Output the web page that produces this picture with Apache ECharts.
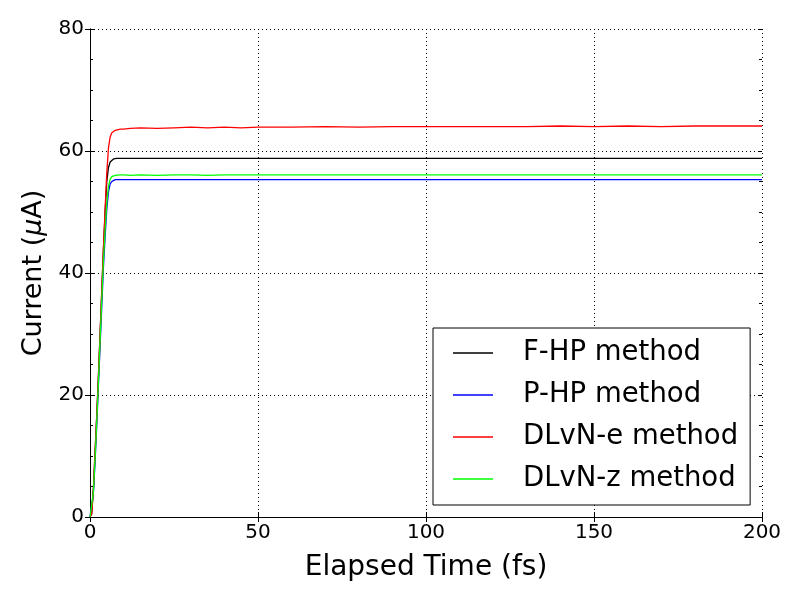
<!DOCTYPE html>
<html>
<head>
<meta charset="utf-8">
<script src="https://cdn.jsdelivr.net/npm/echarts@6/dist/echarts.min.js"></script>
<style>
  html, body { margin: 0; padding: 0; background: #fff; }
  #main { width: 800px; height: 600px; }
</style>
</head>
<body>
<div id="main"></div>
<script>
// time axis (fs)
var time = [0, 0.5, 1, 1.5, 2, 2.5, 3, 3.5, 4, 4.5, 5, 5.5, 6, 6.5, 7, 7.5, 8, 9, 10,
            12, 15, 20, 25, 30, 35, 40, 45, 50, 60, 70, 80, 90, 100, 110, 120, 130,
            140, 150, 160, 170, 180, 190, 200];

var fhp = [0, 0.5, 4.5, 10.5, 16.5, 23, 30, 37, 44, 50, 55, 57.3, 58.2, 58.5, 58.7, 58.8, 58.8, 58.8, 58.8,
           58.8, 58.8, 58.8, 58.8, 58.8, 58.8, 58.8, 58.8, 58.8, 58.8, 58.8, 58.8, 58.8, 58.8, 58.8, 58.8, 58.8,
           58.8, 58.8, 58.8, 58.8, 58.8, 58.8, 58.8];

var php = [0, 0.3, 3.8, 9, 15, 21.5, 28, 34.5, 41, 46, 50.5, 53.3, 54.6, 55.0, 55.2, 55.3, 55.3, 55.3, 55.3,
           55.3, 55.3, 55.3, 55.3, 55.3, 55.3, 55.3, 55.3, 55.3, 55.3, 55.3, 55.3, 55.3, 55.3, 55.3, 55.3, 55.3,
           55.3, 55.3, 55.3, 55.3, 55.3, 55.3, 55.3];

var dlvnE = [0, 0.5, 4.5, 10.5, 16.5, 23, 30, 37, 44, 50.5, 56.5, 60.5, 62.3, 63.0, 63.3, 63.4, 63.5, 63.6, 63.6,
             63.7, 63.8, 63.7, 63.8, 63.9, 63.8, 63.9, 63.8, 63.9, 63.9, 64.0, 63.9, 64.0, 64.0, 64.0, 64.0, 64.0,
             64.1, 64.0, 64.1, 64.0, 64.1, 64.1, 64.1];

var dlvnZ = [0, 0.3, 4, 9.5, 15.5, 22, 29, 35.5, 42, 47, 51.5, 54.2, 55.4, 55.8, 56.0, 56.0, 56.1, 56.1, 56.1,
             56.0, 56.1, 56.0, 56.1, 56.1, 56.0, 56.1, 56.1, 56.1, 56.1, 56.1, 56.1, 56.1, 56.1, 56.1, 56.1, 56.1,
             56.1, 56.1, 56.1, 56.1, 56.1, 56.1, 56.1];

var names = ['F-HP method', 'P-HP method', 'DLvN-e method', 'DLvN-z method'];
var colors = ['#000000', '#0000ff', '#ff0000', '#00ff00'];
var values = [fhp, php, dlvnE, dlvnZ];

function pairs(ys) {
    return time.map(function (t, i) { return [t, ys[i]]; });
}

var font = 'DejaVu Sans';
var gridLine = {show: true, lineStyle: {color: '#000', width: 1, type: [1, 3]}};
var box = {show: true, lineStyle: {color: '#000', width: 1}};
var tick = {show: true, inside: true, length: 5, lineStyle: {color: '#000'}};

// extra tick-only y axis every 5 uA, for the short inward minor ticks
function minorY(pos) {
    return {
        type: 'value', min: 0, max: 80, interval: 5, position: pos,
        axisLine: {show: false},
        axisTick: {show: true, inside: true, length: 3, lineStyle: {color: '#000'}},
        axisLabel: {show: false}, splitLine: {show: false}
    };
}

var myChart = echarts.init(document.getElementById('main'));

var option = {
    animation: false,
    backgroundColor: '#fff',
    grid: {left: 90, right: 38, top: 29, bottom: 83},
    legend: {
        orient: 'vertical',
        left: 433,
        top: 328,
        align: 'left',
        icon: 'rect',
        itemWidth: 40,
        itemHeight: 1.5,
        itemGap: 12,
        padding: [10, 12, 11, 20],
        borderColor: '#000',
        borderWidth: 1,
        backgroundColor: '#fff',
        textStyle: {fontFamily: font, fontSize: 27.5, color: '#000', lineHeight: 30, padding: [0, 0, 0, 25]},
        data: names
    },
    xAxis: [
        {
            type: 'value', min: 0, max: 200, interval: 50, position: 'bottom',
            name: 'Elapsed Time (fs)', nameLocation: 'middle', nameGap: 37,
            nameTextStyle: {fontFamily: font, fontSize: 28, color: '#000'},
            axisLine: box, axisTick: tick, splitLine: gridLine,
            axisLabel: {fontFamily: font, fontSize: 20, color: '#000', margin: 6}
        },
        {
            type: 'value', min: 0, max: 200, interval: 50, position: 'top',
            axisLine: box, axisTick: tick, splitLine: {show: false}, axisLabel: {show: false}
        }
    ],
    yAxis: [
        {
            type: 'value', min: 0, max: 80, interval: 20, position: 'left',
            name: 'Current ({i|μ}A)', nameLocation: 'middle', nameGap: 40,
            nameTextStyle: {
                fontFamily: font, fontSize: 27, color: '#000',
                rich: {i: {fontFamily: font, fontSize: 27, fontStyle: 'italic', color: '#000'}}
            },
            axisLine: box, axisTick: tick, splitLine: gridLine,
            axisLabel: {fontFamily: font, fontSize: 20, color: '#000', margin: 6}
        },
        {
            type: 'value', min: 0, max: 80, interval: 20, position: 'right',
            axisLine: box, axisTick: tick, splitLine: {show: false}, axisLabel: {show: false}
        },
        minorY('left'),
        minorY('right')
    ],
    series: names.map(function (n, k) {
        return {
            name: n,
            type: 'line',
            showSymbol: false,
            color: colors[k],
            lineStyle: {width: 1.3, color: colors[k]},
            data: pairs(values[k])
        };
    })
};
myChart.setOption(option);
</script>
</body>
</html>
